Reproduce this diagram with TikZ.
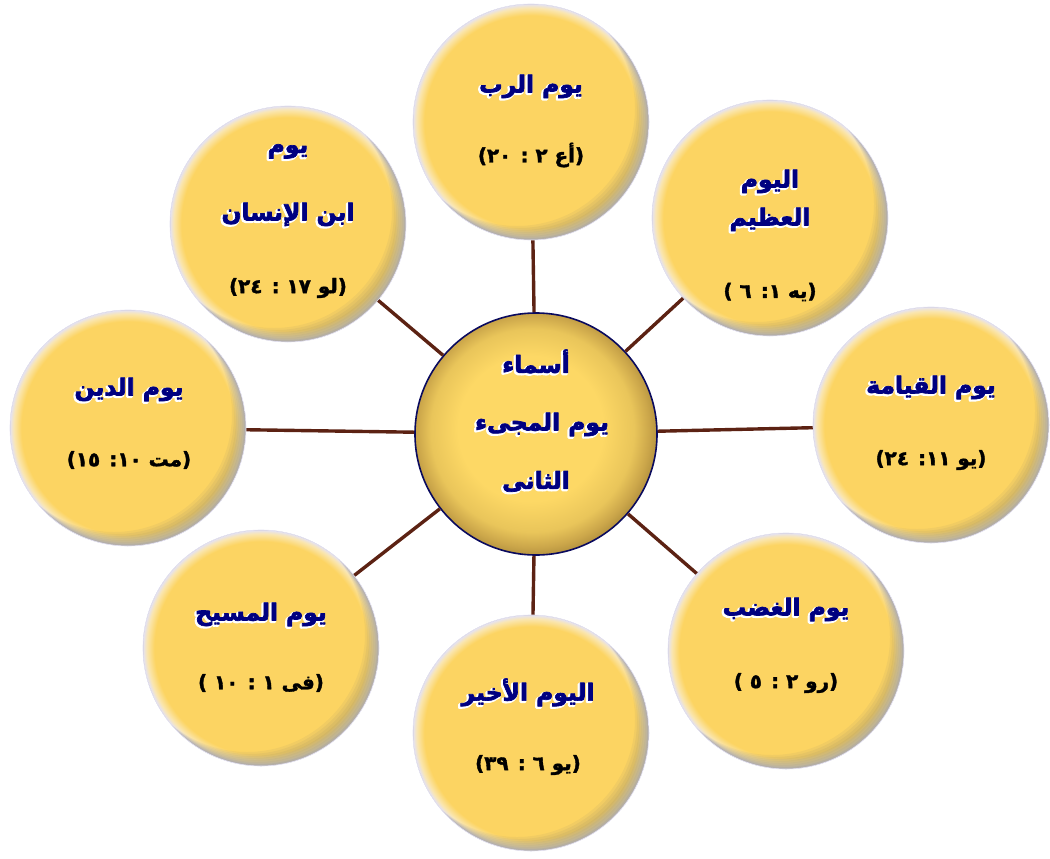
\documentclass[tikz,border=0pt]{standalone}
\usepackage{fontspec}
\newfontfamily\arabicfont[Script=Arabic]{DejaVu Sans}
\TeXXeTstate=1

\definecolor{ballyellow}{HTML}{FCD462}
\definecolor{rimcream}{HTML}{FAE6B0}
\definecolor{rimlav}{HTML}{E4E2F2}
\definecolor{shadowgrey}{HTML}{707070}
\definecolor{hubyellow}{HTML}{FDD865}
\definecolor{hubmid}{HTML}{E9C55A}
\definecolor{hubedge}{HTML}{CBA64A}
\definecolor{hubdark}{HTML}{957830}
\definecolor{hubnavy}{HTML}{0A0A5E}
\definecolor{titlenavy}{HTML}{000080}
\definecolor{spokebrown}{HTML}{5C2213}

\pgfdeclareradialshading{ballrim}{\pgfpoint{0bp}{0bp}}{color(0bp)=(ballyellow); color(22.6bp)=(ballyellow); color(24.2bp)=(rimcream); color(25bp)=(rimlav); color(30bp)=(rimlav)}
\pgfdeclareradialshading{hubshade}{\pgfpoint{-2bp}{2bp}}{color(0bp)=(hubyellow); color(15bp)=(hubyellow); color(21bp)=(hubmid); color(24bp)=(hubedge); color(28bp)=(hubdark); color(34bp)=(hubdark)}

% white halo under the navy titles
\newcommand{\halotext}[1]{\rlap{\raisebox{-1.2bp}{\kern-1.2bp\color{white}\special{pdf:literal direct 1 j 2.8 w 2 Tr}\beginR #1\endR\special{pdf:literal direct 0 Tr}}}\special{pdf:literal direct 1 j 0.7 w 2 Tr}\beginR #1\endR\special{pdf:literal direct 0 Tr}}
% heavier black verse text
\newcommand{\versetext}[1]{\special{pdf:literal direct 1 j 0.35 w 2 Tr}\beginR #1\endR\special{pdf:literal direct 0 Tr}}

\begin{document}
\begin{tikzpicture}[x=1bp, y=-1bp]
        % Style Definitions
        \tikzstyle{dayball} = [circle, minimum size=236bp, inner sep=0pt, shading=ballrim, draw=rimlav, line width=0.6bp,
            path picture={\foreach \k in {1,...,7} \fill[shadowgrey, fill opacity=0.08, even odd rule] (path picture bounding box.center) circle (118bp) ++(-\k*2bp, \k*2bp) circle (118bp);}]
        \tikzstyle{hubball} = [circle, minimum size=242bp, inner sep=0pt, shading=hubshade, draw=hubnavy, line width=1.6bp]
        \tikzstyle{dayname} = [text=titlenavy, inner sep=0pt, font=\arabicfont\bfseries\fontsize{23.5}{28}\selectfont]
        \tikzstyle{verse} = [text=black, inner sep=0pt, font=\arabicfont\bfseries\fontsize{20}{24}\selectfont]
        \tikzstyle{spoke} = [draw=spokebrown, line width=3.4bp]

        \useasboundingbox (0,0) rectangle (1050,859);

        % Nodes
        \node (hub) [hubball] at (536,434) {};
        \node (lordday) [dayball] at (531,122) {};
        \node (sonday) [dayball] at (288,224) {};
        \node (greatday) [dayball] at (770,218) {};
        \node (judgeday) [dayball] at (128,428) {};
        \node (risingday) [dayball] at (931,425) {};
        \node (christday) [dayball] at (261,648) {};
        \node (lastday) [dayball] at (531,733) {};
        \node (wrathday) [dayball] at (786,651) {};

        % Lines
        \draw[spoke] (hub) -- (lordday);
        \draw[spoke] (hub) -- (sonday);
        \draw[spoke] (hub) -- (greatday);
        \draw[spoke] (hub) -- (judgeday);
        \draw[spoke] (hub) -- (risingday);
        \draw[spoke] (hub) -- (christday);
        \draw[spoke] (hub) -- (lastday);
        \draw[spoke] (hub) -- (wrathday);

        % Texts
        \node (hubname1) [dayname] at (536,362) {\halotext{أسماء}};
        \node (hubname2) [dayname] at (542,425) {\halotext{يوم المجىء}};
        \node (hubname3) [dayname] at (536,482) {\halotext{الثانى}};

        \node (lordname) [dayname] at (531,87) {\halotext{يوم الرب}};
        \node (lordverse) [verse] at (531,155) {\versetext{(أع ٢ : ٢٠)}};

        \node (sonname1) [dayname] at (288,152) {\halotext{يوم}};
        \node (sonname2) [dayname] at (288,215) {\halotext{ابن الإنسان}};
        \node (sonverse) [verse] at (288,288) {\versetext{(لو ١٧ : ٢٤)}};

        \node (greatname1) [dayname] at (770,182) {\halotext{اليوم}};
        \node (greatname2) [dayname] at (770,220) {\halotext{العظيم}};
        \node (greatverse) [verse] at (770,292) {\versetext{(يه ١: ٦ )}};

        \node (judgename) [dayname] at (129,390) {\halotext{يوم الدين}};
        \node (judgeverse) [verse] at (129,460) {\versetext{(مت ١٠: ١٥)}};

        \node (risingname) [dayname] at (931,388) {\halotext{يوم القيامة}};
        \node (risingverse) [verse] at (931,460) {\versetext{(يو ١١: ٢٤)}};

        \node (christname) [dayname] at (261,615) {\halotext{يوم المسيح}};
        \node (christverse) [verse] at (261,683) {\versetext{(فى ١ : ١٠ )}};

        \node (lastname) [dayname] at (528,693) {\halotext{اليوم الأخير}};
        \node (lastverse) [verse] at (528,765) {\versetext{(يو ٦ : ٣٩)}};

        \node (wrathname) [dayname] at (786,610) {\halotext{يوم الغضب}};
        \node (wrathverse) [verse] at (786,683) {\versetext{(رو ٢ : ٥ )}};
\end{tikzpicture}
\end{document}
